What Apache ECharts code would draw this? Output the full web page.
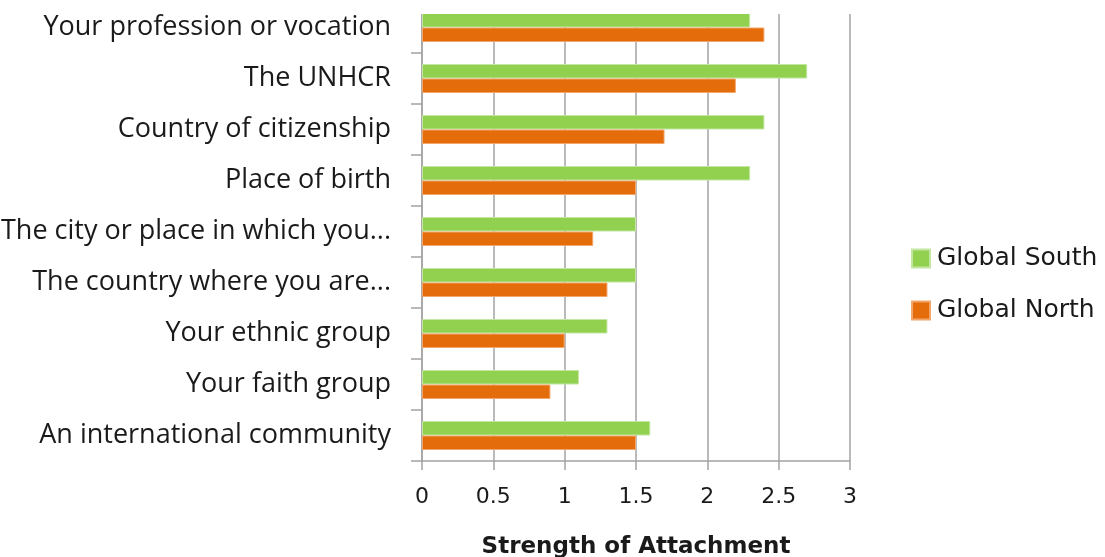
<!DOCTYPE html>
<html>
<head>
<meta charset="utf-8">
<script src="https://cdn.jsdelivr.net/npm/echarts@6/dist/echarts.min.js"></script>
<style>
  html, body { margin: 0; padding: 0; background: #fff; }
  #chart { width: 1105px; height: 557px; }
</style>
</head>
<body>
<div id="chart"></div>
<script>
// Attachment items, listed top to bottom
const categories = [
  'Your profession or vocation',
  'The UNHCR',
  'Country of citizenship',
  'Place of birth',
  'The city or place in which you...',
  'The country where you are...',
  'Your ethnic group',
  'Your faith group',
  'An international community'
];
const globalSouth = [2.3, 2.7, 2.4, 2.3, 1.5, 1.5, 1.3, 1.1, 1.6];
const globalNorth = [2.4, 2.2, 1.7, 1.5, 1.2, 1.3, 1.0, 0.9, 1.5];
const xTicks = { min: 0, max: 3, interval: 0.5 };

const FONT = '"DejaVu Sans", "Noto Sans", sans-serif';
const LABEL_FONT = '"Open Sans", "Noto Sans", sans-serif';
const GRID_GRAY = '#a3a3a3';
const TEXT = '#1a1a1a';

const chart = echarts.init(document.getElementById('chart'), null, { renderer: 'canvas' });

chart.setOption({
  animation: false,
  backgroundColor: '#ffffff',
  grid: { left: 422, right: 255, top: 2, bottom: 96, containLabel: false, outerBoundsMode: 'none' },
  legend: {
    orient: 'vertical',
    left: 911,
    top: 246,
    padding: 0,
    itemWidth: 18,
    itemHeight: 18,
    itemGap: 27,
    icon: 'rect',
    textStyle: { fontFamily: FONT, fontSize: 25, color: TEXT, padding: [0, 0, 0, 2] },
    data: ['Global South', 'Global North']
  },
  xAxis: {
    type: 'value',
    min: xTicks.min,
    max: xTicks.max,
    interval: xTicks.interval,
    name: 'Strength of Attachment',
    nameLocation: 'middle',
    nameGap: 75,
    nameTextStyle: { fontFamily: FONT, fontSize: 23, fontWeight: 'bold', color: TEXT },
    axisLine: { show: true, lineStyle: { color: GRID_GRAY, width: 1.5 } },
    axisTick: { show: true, length: 9, lineStyle: { color: GRID_GRAY, width: 1.5 } },
    splitLine: { show: true, lineStyle: { color: GRID_GRAY, width: 1.5 } },
    axisLabel: { fontFamily: FONT, fontSize: 22, color: TEXT, margin: 25 }
  },
  yAxis: {
    type: 'category',
    inverse: true,
    data: categories,
    axisLine: { show: true, lineStyle: { color: GRID_GRAY, width: 1.5 } },
    axisTick: { show: true, length: 11, lineStyle: { color: GRID_GRAY, width: 1.5 } },
    axisLabel: { fontFamily: LABEL_FONT, fontSize: 27, color: TEXT, margin: 31 }
  },
  series: [
    {
      name: 'Global South',
      type: 'bar',
      data: globalSouth,
      barGap: '0%',
      barWidth: 14.5,
      itemStyle: { color: '#92d050', borderColor: '#c3e6a3', borderWidth: 1 }
    },
    {
      name: 'Global North',
      type: 'bar',
      data: globalNorth,
      barGap: '0%',
      barWidth: 14.5,
      itemStyle: { color: '#e46c0a', borderColor: '#f2a66a', borderWidth: 1 }
    }
  ],
  // the plot's top edge sits just above the visible region
  graphic: [
    { type: 'rect', z: 100, shape: { x: 400, y: 0, width: 470, height: 14 }, style: { fill: '#ffffff' } }
  ]
});
</script>
</body>
</html>
